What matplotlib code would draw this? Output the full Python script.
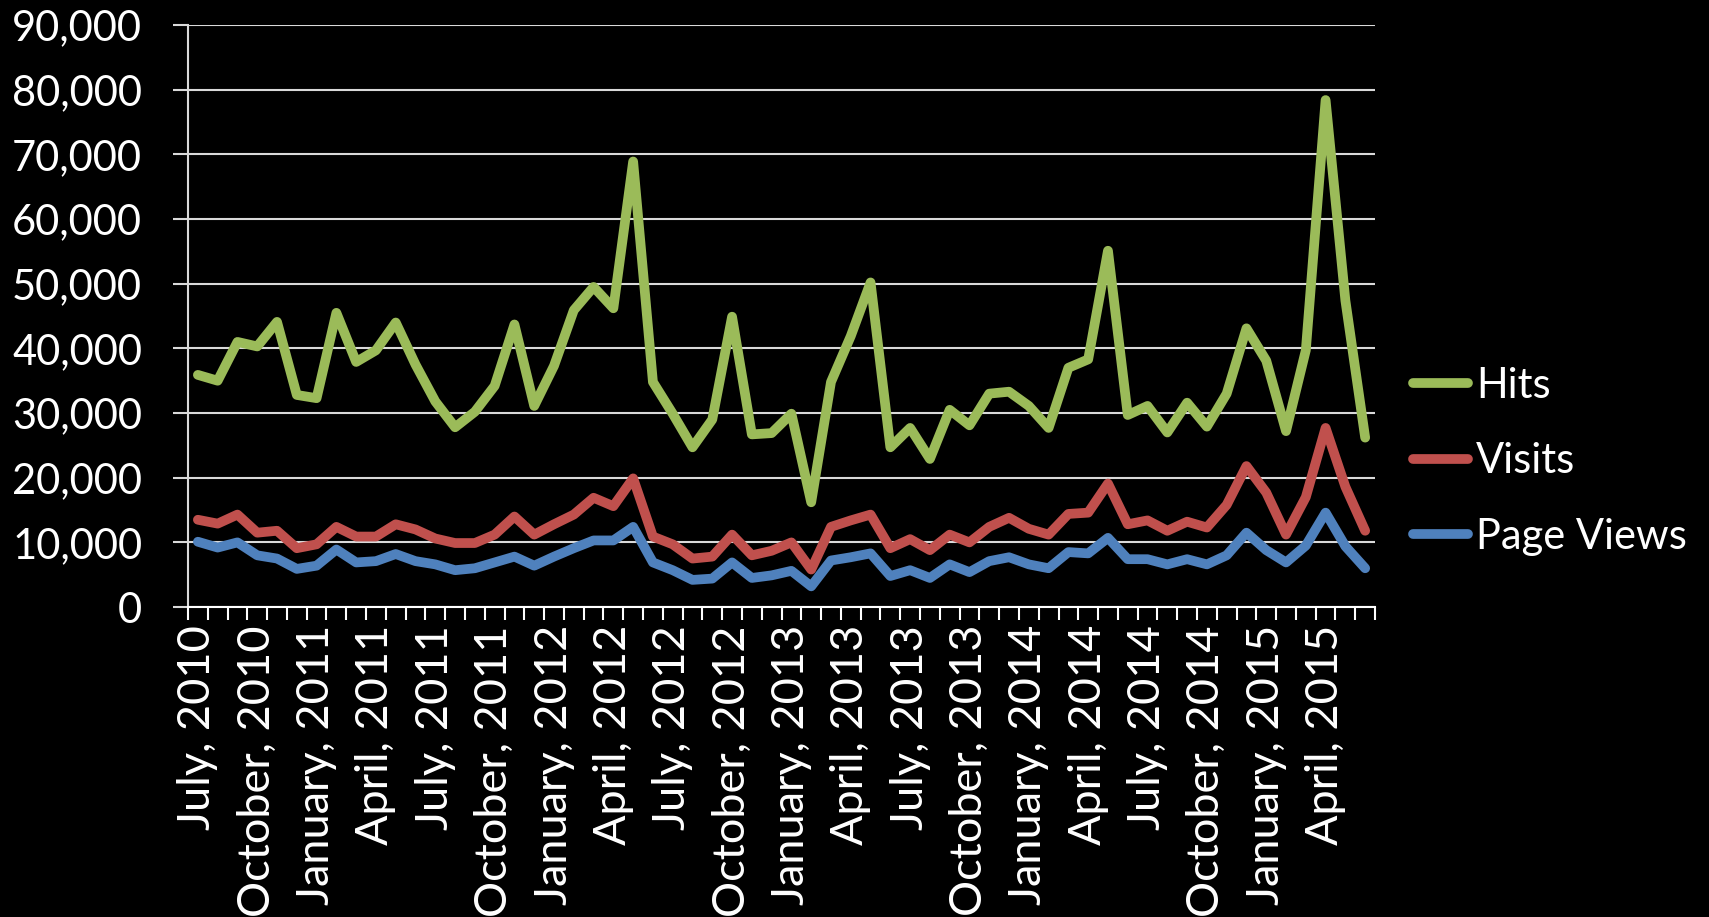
# Site traffic chart: Hits, Visits, Page Views per month (July 2010 - June 2015)

import matplotlib
matplotlib.use('Agg')
import matplotlib.pyplot as plt
from matplotlib.ticker import FuncFormatter, FixedLocator

# Monthly data, July 2010 .. June 2015
hits = [35900, 35000, 41000, 40300, 44100, 32800, 32300, 45500, 37900, 39700,
        44000, 37500, 31800, 27800, 30200, 34200, 43700, 31100, 37300, 45900,
        49500, 46200, 68900, 34800, 29900, 24700, 29000, 44900, 26700, 26900,
        29900, 16200, 34800, 41900, 50200, 24700, 27700, 22900, 30500, 28100,
        33000, 33300, 31100, 27700, 37000, 38300, 55100, 29700, 31100, 27000,
        31600, 27900, 33000, 43100, 38100, 27200, 39700, 78400, 47400, 26200]

visits = [13500, 12900, 14300, 11500, 11800, 9100, 9700, 12400, 10900, 10900,
          12800, 12000, 10600, 9900, 9900, 11200, 14000, 11200, 12800, 14300,
          16900, 15600, 19900, 10900, 9700, 7500, 7800, 11200, 8000, 8700,
          10000, 5800, 12400, 13400, 14300, 9100, 10500, 8800, 11200, 10000,
          12400, 13800, 12100, 11200, 14400, 14600, 19100, 12800, 13400, 11800,
          13200, 12300, 15800, 21800, 17700, 11200, 17000, 27700, 18600, 11800]

page_views = [10100, 9200, 10000, 8000, 7500, 5900, 6400, 8900, 6900, 7100,
              8200, 7100, 6600, 5700, 6000, 6900, 7800, 6400, 7800, 9100,
              10300, 10300, 12400, 6900, 5700, 4200, 4400, 6900, 4500, 4900,
              5600, 3200, 7200, 7700, 8300, 4800, 5700, 4500, 6600, 5400,
              7100, 7700, 6600, 6000, 8500, 8300, 10700, 7400, 7400, 6600,
              7400, 6600, 8000, 11500, 8800, 6900, 9500, 14600, 9400, 6000]

# Labels shown every third month
tick_labels = ['July, 2010', 'October, 2010', 'January, 2011', 'April, 2011',
               'July, 2011', 'October, 2011', 'January, 2012', 'April, 2012',
               'July, 2012', 'October, 2012', 'January, 2013', 'April, 2013',
               'July, 2013', 'October, 2013', 'January, 2014', 'April, 2014',
               'July, 2014', 'October, 2014', 'January, 2015', 'April, 2015']

plt.rcParams['font.family'] = ['Lato', 'DejaVu Sans']

fig = plt.figure(figsize=(17.09, 9.17), dpi=100, facecolor='black')
ax = fig.add_axes([0.110, 0.338, 0.6946, 0.6347], facecolor='black')

x = list(range(len(hits)))
ax.plot(x, hits, color='#9BBB59', lw=7, solid_joinstyle='round', solid_capstyle='round', label='Hits')
ax.plot(x, visits, color='#C0504D', lw=7, solid_joinstyle='round', solid_capstyle='round', label='Visits')
ax.plot(x, page_views, color='#4F81BD', lw=7, solid_joinstyle='round', solid_capstyle='round', label='Page Views')

# Axes limits and grid
ax.set_xlim(-0.5, len(hits) - 0.5)
ax.set_ylim(0, 90000)
ax.set_yticks(range(0, 90001, 10000))
ax.yaxis.set_major_formatter(FuncFormatter(lambda v, p: f'{int(v):,}'))
ax.grid(axis='y', color='#d9d9d9', lw=1.5)
ax.set_axisbelow(True)

# Category axis: tick marks between months, labels on every third month
ax.xaxis.set_major_locator(FixedLocator([i * 3 for i in range(len(tick_labels))]))
ax.set_xticklabels(tick_labels, rotation=90, fontsize=32.5, color='white')
ax.xaxis.set_minor_locator(FixedLocator([i - 0.5 for i in range(len(hits) + 1)]))
ax.tick_params(axis='x', which='major', length=0, pad=13)
ax.tick_params(axis='x', which='minor', length=9, width=1.5, color='white')
ax.tick_params(axis='y', length=11, width=1.5, color='#d9d9d9', labelsize=30,
               labelcolor='white', pad=22)

for side in ['top', 'right']:
    ax.spines[side].set_visible(False)
ax.spines['left'].set_color('#d9d9d9')
ax.spines['left'].set_linewidth(1.5)
ax.spines['bottom'].set_color('white')
ax.spines['bottom'].set_linewidth(1.5)

# Legend on the right
leg = ax.legend(loc='center left', bbox_to_anchor=(0.827, 0.497),
                bbox_transform=fig.transFigure, frameon=False, fontsize=30,
                handlelength=1.3, handletextpad=0.2, labelspacing=0.9,
                borderaxespad=0, borderpad=0)
for t in leg.get_texts():
    t.set_color('white')

plt.savefig('out.png', dpi=100, facecolor='black')
